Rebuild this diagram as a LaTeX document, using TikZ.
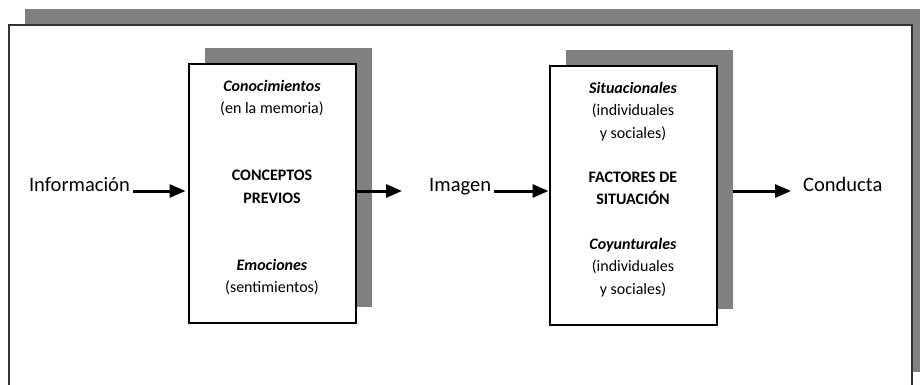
\documentclass[tikz,border=0pt]{standalone}
\usepackage{fontspec}
\setmainfont{Carlito}
\usetikzlibrary{arrows.meta}
\begin{document}
\begin{tikzpicture}[x=1pt,y=1pt]
		\tikzset{frameline/.style = {draw=black!80, line width=2pt}}
		\tikzset{shadowbox/.style = {fill=gray, minimum width=167pt, minimum height=259pt, inner sep=0pt}}
		\tikzset{box/.style = {draw, fill=white, line width=2pt, minimum width=167pt, minimum height=259pt, inner sep=0pt}}
		\tikzset{boxtext/.style = {align=center, inner sep=0pt, font=\fontsize{16}{22.3}\selectfont}}
		\tikzset{term/.style = {inner xsep=3pt, inner ysep=0pt, font=\fontsize{20.5}{24}\selectfont}}
		\tikzset{edge/.style = {-{Triangle[length=16pt,width=13pt]}, line width=3pt}}
		
		\useasboundingbox (0,0) rectangle (920,384);
		\fill[gray] (25,12) rectangle (928,375);
		\draw[fill=white, frameline] (8.5,-4) rectangle (912,359);
		
		\node[shadowbox]  (prevsh) at ( 288, 206.5) {};
		\node[box]          (prev) at ( 272, 190.5) {};
		\node[boxtext]   (prevtxt) at ([yshift=6pt]prev.center)
			{\textbf{\textit{Conocimientos}}\\(en la memoria)\\[44.6pt]
			 \textbf{CONCEPTOS}\\\textbf{PREVIOS}\\[44.6pt]
			 \textbf{\textit{Emociones}}\\(sentimientos)};
		
		\node[shadowbox]   (sitsh) at ( 649, 204.5) {};
		\node[box]           (sit) at ( 633, 188.5) {};
		\node[boxtext]    (sittxt) at ([yshift=6pt]sit.center)
			{\textbf{\textit{Situacionales}}\\(individuales\\y sociales)\\[22.3pt]
			 \textbf{FACTORES DE}\\\textbf{SITUACIÓN}\\[22.3pt]
			 \textbf{\textit{Coyunturales}}\\(individuales\\y sociales)};
		
		\node[term, anchor=base east]     (info) at ( 133, 193) {Información};
		\node[term, anchor=base west]   (imagen) at ( 426, 193) {Imagen};
		\node[term, anchor=base west] (conducta) at ( 800, 193) {Conducta};
		
		\draw[edge, shorten >=2pt] (info.base east) to (prev.west |- info.base east);
		\draw[edge, shorten >=24pt] (prev.east |- imagen.base west) to (imagen.base west);
		\draw[edge] (imagen.base east) to (sit.west |- imagen.base east);
		\draw[edge, shorten >=9pt] (sitsh.east |- conducta.base west) to (conducta.base west);
\end{tikzpicture}
\end{document}
